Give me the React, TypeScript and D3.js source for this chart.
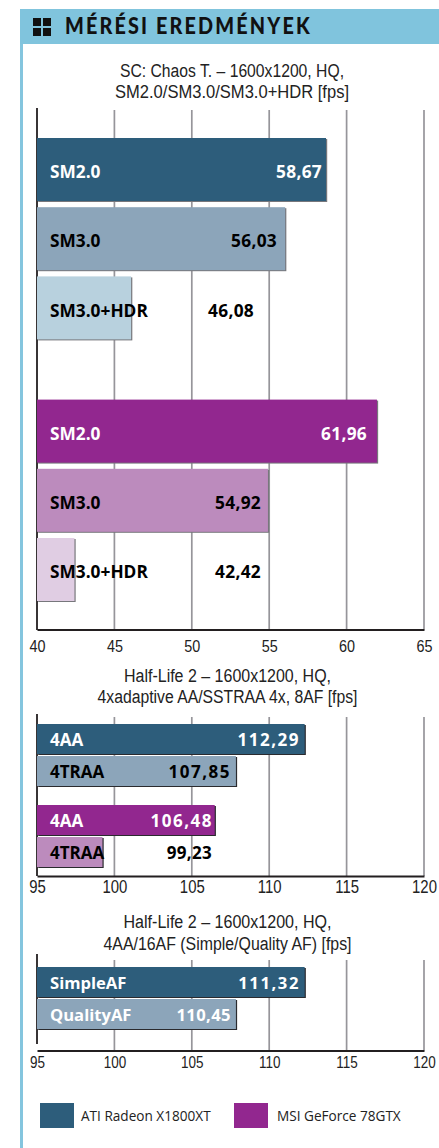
import { useEffect, useRef } from 'react';
import * as d3 from 'd3';

const chaosLabels = ['SM2.0', 'SM3.0', 'SM3.0+HDR'];
const chaosAti = [58.67, 56.03, 46.08];
const chaosMsi = [61.96, 54.92, 42.42];
const chaosTicks = [40, 45, 50, 55, 60, 65];

const hlAaLabels = ['4AA', '4TRAA'];
const hlAaAti = [112.29, 107.85];
const hlAaMsi = [106.48, 99.23];

const hlAfLabels = ['SimpleAF', 'QualityAF'];
const hlAfValues = [111.32, 110.45];
// the printed bars do not follow their own labels, they repeat the lengths of the chart above
const hlAfDrawn = [112.29, 107.85];
const hlTicks = [95, 100, 105, 110, 115, 120];

const legendNames = ['ATI Radeon X1800XT', 'MSI GeForce 78GTX'];

const blue = ['#2d5d7b', '#8ca5ba', '#b8d1de'];
const purple = ['#92278f', '#bc8bbd', '#e0cde3'];

const sans = '"Liberation Sans", sans-serif';
const barFont = '"Open Sans", "Noto Sans", sans-serif';

const fmt = (v: number) => v.toFixed(2).replace('.', ',');

interface Row {
  label: string;
  value: number;
  drawn: number;
  fill: string;
  text: string;
}

function rows(
  labels: string[],
  series: { values: number[]; drawn?: number[]; colors: string[]; text: string[] }[],
): Row[] {
  return series.flatMap((s) =>
    labels.map((label, i) => ({
      label,
      value: s.values[i],
      drawn: (s.drawn ?? s.values)[i],
      fill: s.colors[i],
      text: s.text[i],
    })),
  );
}

interface PanelOpts {
  title: string[];
  titleWidths: number[];
  titleX: number;
  titleY: number;
  ticks: number[];
  rows: Row[];
  perGroup: number;
  top: number;
  gridTop: number;
  spineBottom: number;
  axisY: number;
  barTop: number;
  barH: number;
  step: number;
  groupGap: number;
  edge: string;
  labelSize: number;
  labelDy: number;
  valueSpacing: number[];
  tickPad: number;
  tickSize: number;
  digitW: number;
  valueX: number[];
}

function drawPanel(svg: d3.Selection<SVGSVGElement, unknown, null, undefined>, o: PanelOpts) {
  const x = d3
    .scaleLinear()
    .domain([o.ticks[0], o.ticks[o.ticks.length - 1]])
    .range([37, 424]);
  const g = svg.append('g');
  const base = x.domain()[0];

  o.title.forEach((t, i) => {
    g.append('text')
      .attr('x', o.titleX)
      .attr('y', o.titleY + i * 21.7)
      .attr('text-anchor', 'middle')
      .attr('font-family', sans)
      .attr('font-size', 18)
      .attr('fill', '#222')
      .attr('textLength', o.titleWidths[i])
      .attr('lengthAdjust', 'spacingAndGlyphs')
      .text(t);
  });

  g.selectAll('line.grid')
    .data(o.ticks.slice(1))
    .join('line')
    .attr('class', 'grid')
    .attr('x1', (d) => x(d))
    .attr('x2', (d) => x(d))
    .attr('y1', o.gridTop)
    .attr('y2', o.axisY)
    .attr('stroke', '#96959a')
    .attr('stroke-width', 1.7);

  g.append('line')
    .attr('x1', x(base))
    .attr('x2', x(base))
    .attr('y1', o.top)
    .attr('y2', o.spineBottom)
    .attr('stroke', '#231f20')
    .attr('stroke-width', 1.8);

  const barY = (i: number) =>
    o.barTop + i * o.step + (i >= o.perGroup ? o.groupGap : 0);

  const bars = g.selectAll('g.bar').data(o.rows).join('g').attr('class', 'bar');
  // thin drop edge on the right and underneath
  bars
    .append('rect')
    .attr('x', x(base) + 1.2)
    .attr('y', (d, i) => barY(i) + 1)
    .attr('width', (d) => x(d.drawn) - x(base))
    .attr('height', o.barH)
    .attr('fill', o.edge);
  bars
    .append('rect')
    .attr('x', x(base))
    .attr('y', (d, i) => barY(i))
    .attr('width', (d) => x(d.drawn) - x(base))
    .attr('height', o.barH)
    .attr('fill', (d) => d.fill);

  bars
    .append('text')
    .attr('x', 50)
    .attr('y', (d, i) => barY(i) + o.barH / 2 + o.labelDy)
    .attr('dy', '0.36em')
    .attr('font-family', barFont)
    .attr('font-weight', 700)
    .attr('font-size', o.labelSize)
    .attr('fill', (d) => d.text)
    .text((d) => d.label);
  bars
    .append('text')
    .attr('x', (d, i) => o.valueX[i])
    .attr('y', (d, i) => barY(i) + o.barH / 2 + o.labelDy)
    .attr('dy', '0.36em')
    .attr('text-anchor', 'end')
    .attr('font-family', barFont)
    .attr('font-weight', 700)
    .attr('font-size', o.labelSize)
    .attr('letter-spacing', (d, i) => o.valueSpacing[i])
    .attr('fill', (d) => d.text)
    .text((d) => fmt(d.value));

  const axis = d3
    .axisBottom(x)
    .tickValues(o.ticks)
    .tickSize(0)
    .tickPadding(o.tickPad)
    .tickFormat((d) => String(d));
  const ax = g
    .append('g')
    .attr('transform', `translate(0,${o.axisY})`)
    .call(axis);
  ax.select('.domain').attr('stroke', '#231f20').attr('stroke-width', 2);
  // squeeze the digits, the print uses a condensed face (0.556em is the digit width here)
  ax.selectAll<SVGTextElement, number>('text')
    .attr('font-family', sans)
    .attr('font-size', o.tickSize)
    .attr('fill', '#222')
    .attr('transform', `scale(${o.digitW / (0.556 * o.tickSize)},1)`);
}

export default function App() {
  const svgRef = useRef<SVGSVGElement>(null);

  useEffect(() => {
    if (!svgRef.current) return;
    const svg = d3.select(svgRef.current);
    svg.selectAll('*').remove();

    // page furniture
    svg.append('rect').attr('x', 20).attr('y', 9).attr('width', 3).attr('height', 1139).attr('fill', '#84c5de');
    svg.append('rect').attr('x', 20).attr('y', 9).attr('width', 419).attr('height', 35).attr('fill', '#80c4dd');
    [
      [33, 18],
      [43, 18],
      [33, 28],
      [43, 28],
    ].forEach(([sx, sy]) => {
      svg.append('rect').attr('x', sx).attr('y', sy).attr('width', 8).attr('height', 8).attr('fill', '#111');
    });
    svg
      .append('text')
      .attr('transform', 'translate(65,34) scale(0.9,1)')
      .attr('font-family', 'Lato, "Noto Sans", sans-serif')
      .attr('font-weight', 900)
      .attr('font-size', 22)
      .attr('letter-spacing', 2.4)
      .attr('fill', '#111')
      .text('MÉRÉSI EREDMÉNYEK');

    drawPanel(svg, {
      title: ['SC: Chaos T. – 1600x1200, HQ,', 'SM2.0/SM3.0/SM3.0+HDR [fps]'],
      titleWidths: [224, 234],
      titleX: 232,
      titleY: 76.5,
      ticks: chaosTicks,
      rows: rows(chaosLabels, [
        { values: chaosAti, colors: blue, text: ['#fff', '#000', '#000'] },
        { values: chaosMsi, colors: purple, text: ['#fff', '#000', '#000'] },
      ]),
      perGroup: 3,
      top: 108,
      gridTop: 110,
      spineBottom: 630,
      axisY: 629.5,
      barTop: 138,
      barH: 63,
      step: 69.2,
      groupGap: 54,
      edge: '#77777c',
      labelSize: 17.3,
      labelDy: 2.5,
      valueSpacing: [0.3, 0.3, 0.3, 0.3, 0.3, 0.3],
      tickPad: 10.5,
      tickSize: 17,
      digitW: 8,
      valueX: [322, 277, 254, 367, 261, 261],
    });

    drawPanel(svg, {
      title: ['Half-Life 2 – 1600x1200, HQ,', '4xadaptive AA/SSTRAA 4x, 8AF [fps]'],
      titleWidths: [207, 260],
      titleX: 227.5,
      titleY: 681.5,
      ticks: hlTicks,
      rows: rows(hlAaLabels, [
        { values: hlAaAti, colors: blue, text: ['#fff', '#000'] },
        { values: hlAaMsi, colors: [purple[0], purple[1]], text: ['#fff', '#000'] },
      ]),
      perGroup: 2,
      top: 714,
      gridTop: 717,
      spineBottom: 876,
      axisY: 876,
      barTop: 724,
      barH: 30,
      step: 32,
      groupGap: 17,
      edge: '#2a2a2e',
      labelSize: 17,
      labelDy: 1,
      valueSpacing: [1.5, 1.5, 1.5, 0.3],
      tickPad: 3.5,
      tickSize: 19,
      digitW: 8.3,
      valueX: [300, 231, 213, 212],
    });

    drawPanel(svg, {
      title: ['Half-Life 2 – 1600x1200, HQ,', '4AA/16AF (Simple/Quality AF) [fps]'],
      titleWidths: [208, 248],
      titleX: 227.5,
      titleY: 928,
      ticks: hlTicks,
      rows: rows(hlAfLabels, [
        { values: hlAfValues, drawn: hlAfDrawn, colors: blue, text: ['#fff', '#fff'] },
      ]),
      perGroup: 2,
      top: 954,
      gridTop: 960,
      spineBottom: 1044,
      axisY: 1050.5,
      barTop: 967,
      barH: 30,
      step: 32,
      groupGap: 0,
      edge: '#2a2a2e',
      labelSize: 16.6,
      labelDy: 1.5,
      valueSpacing: [1.6, 0.4],
      tickPad: 5.5,
      tickSize: 17,
      digitW: 7.5,
      valueX: [300, 231],
    });

    // legend
    legendNames.forEach((name, i) => {
      const lx = i === 0 ? 40 : 234;
      svg.append('rect').attr('x', lx).attr('y', 1103).attr('width', 34).attr('height', 25).attr('fill', i === 0 ? blue[0] : purple[0]);
      svg
        .append('text')
        .attr('x', i === 0 ? 81 : 277)
        .attr('y', 1121)
        .attr('font-family', barFont)
        .attr('font-size', 13.6)
        .attr('fill', '#222')
        .text(name);
    });
  }, []);

  return (
    <svg
      ref={svgRef}
      width={439}
      height={1148}
      style={{ position: 'absolute', left: 0, top: 0, background: '#fff' }}
    />
  );
}
